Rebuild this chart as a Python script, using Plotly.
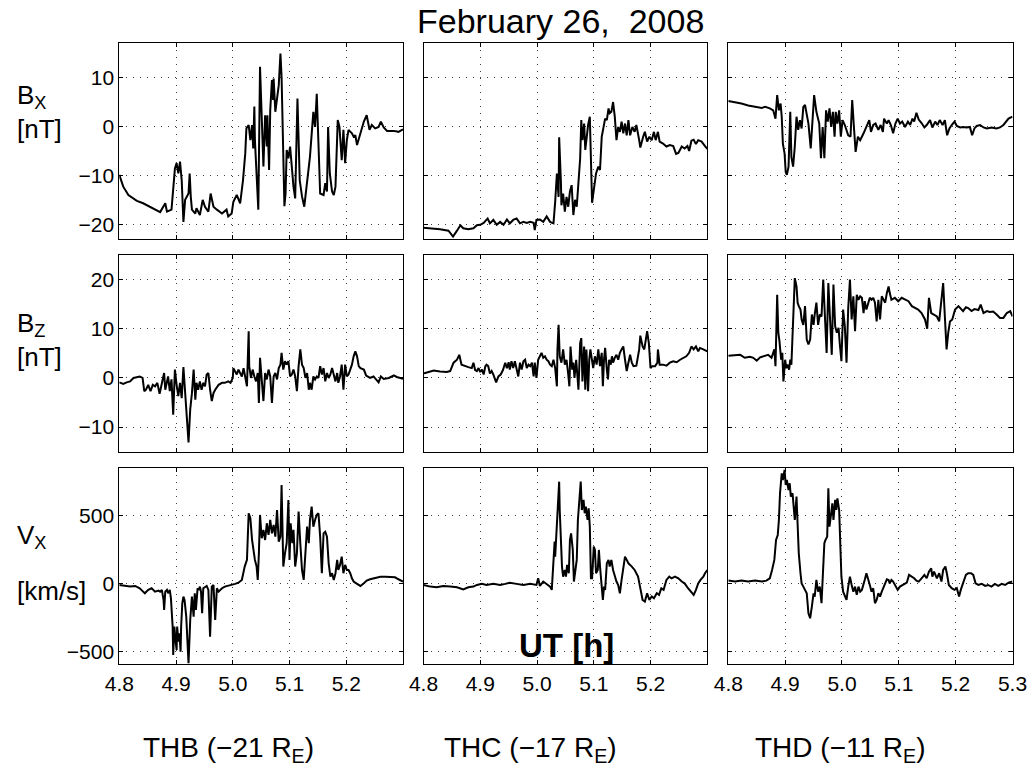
import plotly.graph_objects as go

# ---------------- data (UT hours) ----------------
t_thb_bx = [4.800, 4.807, 4.816, 4.831, 4.842, 4.854, 4.866, 4.872, 4.881, 4.884,
            4.892, 4.895, 4.898, 4.901, 4.904, 4.907, 4.910, 4.913, 4.916, 4.922,
            4.924, 4.926, 4.928, 4.934, 4.936, 4.942, 4.947, 4.951, 4.957, 4.961,
            4.966, 4.972, 4.981, 4.989, 4.992, 4.998, 5.001, 5.007, 5.013, 5.018,
            5.022, 5.024, 5.028, 5.031, 5.034, 5.036, 5.038, 5.039, 5.042, 5.045,
            5.048, 5.051, 5.054, 5.057, 5.060, 5.061, 5.064, 5.066, 5.069, 5.071,
            5.072, 5.075, 5.078, 5.081, 5.084, 5.086, 5.091, 5.093, 5.095, 5.098,
            5.101, 5.104, 5.107, 5.110, 5.114, 5.118, 5.122, 5.126, 5.129, 5.132,
            5.136, 5.142, 5.145, 5.148, 5.151, 5.154, 5.160, 5.163, 5.166, 5.168,
            5.171, 5.175, 5.178, 5.181, 5.185, 5.188, 5.192, 5.195, 5.198, 5.201,
            5.204, 5.210, 5.213, 5.216, 5.219, 5.225, 5.231, 5.236, 5.241, 5.245,
            5.251, 5.257, 5.261, 5.266, 5.272, 5.284, 5.292, 5.300]
bx_thb = [-9.9, -12.3, -14.0, -15.2, -15.7, -16.4, -17.0, -17.5, -15.7, -17.4,
          -17.0, -12.3, -8.6, -7.5, -9.6, -7.2, -11.0, -19.5, -15.0, -13.7,
          -9.6, -14.4, -17.0, -17.8, -16.7, -18.1, -15.0, -16.4, -17.4, -13.7,
          -16.4, -17.0, -17.8, -17.0, -18.4, -17.8, -15.4, -14.0, -15.7, -11.0,
          -5.5, -0.4, 0.3, -2.8, 0.3, -4.5, 4.1, -2.8, -11.6, -17.0,
          12.2, -0.1, -8.2, 2.3, -4.1, 2.3, -8.9, 3.3, 9.5, 5.4,
          9.8, 3.0, 5.7, 8.4, 14.9, 10.1, -16.3, -13.7, -4.8, -6.5,
          -4.1, -8.9, -12.3, -14.7, 5.7, -11.0, -14.3, -16.4, -13.3, -11.0,
          -6.2, 3.0, -0.1, 6.7, -2.8, -13.7, -14.0, -11.6, -13.3, -0.1,
          -9.6, -13.3, -14.0, -12.3, 1.3, -0.1, -6.9, -0.7, -7.5, -2.8,
          -0.7, -1.4, -2.1, -1.8, -3.8, -1.1, 1.0, 2.3, -0.7, 0.3,
          -0.4, -0.1, 1.0, -0.2, -0.9, -0.9, -1.1, -0.6]

t_thc_bx = [4.800, 4.812, 4.829, 4.844, 4.852, 4.859, 4.865, 4.870, 4.879, 4.888,
            4.894, 4.900, 4.906, 4.913, 4.917, 4.923, 4.929, 4.935, 4.941, 4.947,
            4.952, 4.958, 4.964, 4.970, 4.976, 4.982, 4.988, 4.994, 4.996, 4.999,
            5.005, 5.011, 5.017, 5.023, 5.029, 5.032, 5.035, 5.038, 5.039, 5.042,
            5.043, 5.046, 5.049, 5.052, 5.055, 5.058, 5.061, 5.064, 5.067, 5.070,
            5.073, 5.076, 5.078, 5.080, 5.083, 5.085, 5.087, 5.090, 5.093, 5.095,
            5.097, 5.100, 5.104, 5.108, 5.111, 5.114, 5.117, 5.120, 5.123, 5.126,
            5.128, 5.131, 5.134, 5.137, 5.140, 5.143, 5.146, 5.149, 5.152, 5.155,
            5.158, 5.161, 5.164, 5.168, 5.172, 5.175, 5.180, 5.182, 5.187, 5.190,
            5.194, 5.198, 5.202, 5.206, 5.209, 5.213, 5.216, 5.222, 5.228, 5.234,
            5.240, 5.245, 5.249, 5.255, 5.260, 5.265, 5.268, 5.272, 5.276, 5.280,
            5.284, 5.290, 5.296, 5.300]
bx_thc = [-20.7, -20.8, -21.0, -21.3, -22.5, -21.3, -20.2, -20.8, -21.0, -20.8,
          -20.2, -20.1, -19.7, -18.8, -19.8, -19.1, -20.1, -19.5, -20.1, -19.0,
          -19.8, -19.1, -18.8, -19.8, -19.5, -19.7, -19.5, -19.7, -21.2, -19.1,
          -19.0, -19.5, -18.4, -19.5, -19.8, -15.4, -9.6, -14.4, -2.2, -11.0,
          -16.1, -13.7, -17.4, -14.4, -16.4, -13.3, -12.0, -18.1, -15.0, -16.4,
          -11.6, -6.5, 1.3, -2.8, 0.6, -4.8, -2.8, 0.3, 2.0, -11.0,
          -15.6, -13.0, -9.6, -8.2, -8.9, -2.1, -0.1, 1.6, 1.3, 3.7,
          2.7, 3.0, 5.0, 2.0, -2.8, -0.1, -1.1, 1.0, -1.4, 0.6,
          -1.8, 1.3, -1.8, -0.1, -1.1, 0.3, -2.8, -4.3, -2.1, -1.1,
          -3.1, -2.1, -2.8, -1.1, -2.8, -1.1, -3.1, -3.5, -4.1, -3.8,
          -4.0, -5.6, -5.4, -4.1, -4.5, -4.0, -5.0, -2.9, -2.7, -3.6,
          -2.8, -3.1, -4.0, -4.6]

t_thd_bx = [4.800, 4.812, 4.823, 4.835, 4.847, 4.859, 4.865, 4.873, 4.879, 4.883,
            4.886, 4.889, 4.892, 4.894, 4.896, 4.899, 4.901, 4.903, 4.906, 4.909,
            4.911, 4.914, 4.917, 4.920, 4.923, 4.926, 4.929, 4.932, 4.935, 4.938,
            4.941, 4.945, 4.948, 4.951, 4.955, 4.960, 4.963, 4.966, 4.969, 4.972,
            4.975, 4.978, 4.981, 4.984, 4.987, 4.989, 4.992, 4.995, 4.998, 5.001,
            5.005, 5.008, 5.011, 5.015, 5.018, 5.021, 5.024, 5.028, 5.032, 5.038,
            5.043, 5.048, 5.051, 5.055, 5.059, 5.064, 5.068, 5.072, 5.074, 5.079,
            5.082, 5.086, 5.090, 5.094, 5.098, 5.102, 5.106, 5.111, 5.116, 5.120,
            5.124, 5.127, 5.131, 5.135, 5.140, 5.145, 5.149, 5.155, 5.159, 5.164,
            5.168, 5.172, 5.177, 5.181, 5.185, 5.189, 5.193, 5.198, 5.202, 5.208,
            5.213, 5.219, 5.225, 5.229, 5.233, 5.237, 5.243, 5.249, 5.255, 5.263,
            5.272, 5.278, 5.284, 5.288, 5.293, 5.300]
bx_thd = [5.2, 5.0, 4.7, 4.3, 4.1, 3.8, 4.0, 3.7, 3.3, 1.6,
          6.4, 3.3, 4.7, 2.0, -3.5, -5.5, -9.3, -9.9, -8.2, 3.0,
          -6.2, -8.2, -4.1, 2.0, -0.7, 1.3, -0.4, 4.0, 4.4, 2.7,
          0.6, -4.5, 1.3, 6.4, 3.0, 0.6, -6.5, -0.1, -6.5, 3.3,
          1.0, 3.7, -0.1, 3.0, -2.1, 3.0, 0.6, 3.3, -2.1, 1.3,
          0.3, -0.7, -1.8, -2.1, 5.4, -0.1, -5.2, -2.1, -2.8, -1.4,
          -0.1, 1.3, -1.1, 0.3, 0.6, -0.7, 0.3, -1.1, 1.6, 0.6,
          1.3, 0.3, -1.4, 0.6, 1.6, 0.6, 1.0, -0.1, 1.0, 0.3,
          1.6, 1.0, 2.8, 1.4, 0.7, -0.2, 0.3, 1.3, -0.2, 1.0,
          0.3, 1.3, 0.3, 1.3, -1.8, -0.4, 0.3, 1.0, 0.1, -0.2,
          -0.1, -0.2, -0.1, -1.8, -0.4, 0.1, 0.3, -0.2, -0.4, -0.2,
          -0.4, -0.2, 0.3, 1.0, 1.6, 2.0]

t_thb_bz = [4.800, 4.807, 4.813, 4.819, 4.825, 4.831, 4.836, 4.841, 4.844, 4.847,
            4.851, 4.855, 4.859, 4.863, 4.867, 4.871, 4.874, 4.876, 4.879, 4.881,
            4.884, 4.886, 4.889, 4.892, 4.895, 4.898, 4.901, 4.904, 4.907, 4.910,
            4.913, 4.916, 4.919, 4.922, 4.925, 4.928, 4.931, 4.934, 4.936, 4.939,
            4.942, 4.945, 4.948, 4.951, 4.954, 4.957, 4.960, 4.963, 4.966, 4.969,
            4.975, 4.981, 4.986, 4.992, 4.996, 5.000, 5.001, 5.004, 5.007, 5.010,
            5.013, 5.016, 5.019, 5.022, 5.025, 5.028, 5.029, 5.032, 5.035, 5.038,
            5.041, 5.044, 5.046, 5.048, 5.051, 5.054, 5.057, 5.060, 5.063, 5.066,
            5.069, 5.072, 5.075, 5.078, 5.081, 5.084, 5.086, 5.089, 5.092, 5.095,
            5.098, 5.101, 5.104, 5.107, 5.110, 5.113, 5.116, 5.119, 5.122, 5.125,
            5.128, 5.131, 5.134, 5.136, 5.139, 5.142, 5.145, 5.148, 5.151, 5.154,
            5.157, 5.160, 5.163, 5.166, 5.169, 5.172, 5.175, 5.178, 5.181, 5.184,
            5.186, 5.189, 5.192, 5.195, 5.198, 5.201, 5.204, 5.207, 5.210, 5.213,
            5.216, 5.219, 5.222, 5.225, 5.231, 5.235, 5.242, 5.248, 5.253, 5.257,
            5.261, 5.266, 5.275, 5.284, 5.289, 5.295, 5.300]
bz_thb = [-0.9, -1.2, -0.9, -0.7, 0.0, 0.2, 0.3, 0.0, -2.7, -2.4,
          -1.4, -2.7, -1.4, -1.7, -1.0, -3.2, -1.7, -0.7, 1.0, -2.4,
          -0.7, 0.3, -2.7, -0.3, -7.5, 1.7, -1.4, -3.7, -1.0, -4.1,
          2.2, -2.4, -7.1, -13.1, -6.4, -3.1, 1.7, -4.4, -1.0, -2.4,
          -0.7, -2.4, -1.0, -1.7, 0.7, 1.0, -2.4, -4.7, -3.1, -2.4,
          -1.4, -1.0, -1.0, -0.7, -1.0, 0.0, 2.0, 1.4, 0.7, 1.7,
          0.9, 0.3, 2.0, 0.3, -1.7, 9.5, 2.4, 0.0, 1.7, 0.3,
          -0.7, 1.0, -5.1, 4.1, -0.7, -4.7, 1.0, -0.3, 1.7, 0.3,
          -5.1, 0.3, 1.0, -0.3, 2.0, 2.7, 5.1, 1.7, 3.4, 2.7,
          3.4, 0.3, 0.7, 1.7, 0.3, -2.7, 2.4, 5.8, 2.7, 2.0,
          0.0, 1.0, -2.4, -1.0, -2.4, 0.3, -0.3, 0.3, 0.0, 2.4,
          0.7, 2.0, -0.7, 1.0, 0.0, 0.7, 2.0, 0.3, -0.7, 1.0,
          -1.0, 0.3, 2.7, -2.4, 2.7, 0.3, 0.7, 1.7, 2.7, 4.4,
          5.4, 4.4, 2.4, 2.0, 1.7, 0.5, 0.0, 0.3, -0.3, -0.9,
          0.3, -0.2, 0.0, 0.5, 0.2, 0.0, -0.2]

t_thc_bz = [4.800, 4.809, 4.818, 4.829, 4.841, 4.847, 4.853, 4.859, 4.863, 4.867,
            4.873, 4.879, 4.885, 4.888, 4.891, 4.894, 4.897, 4.900, 4.903, 4.906,
            4.909, 4.911, 4.914, 4.917, 4.920, 4.923, 4.928, 4.932, 4.936, 4.940,
            4.944, 4.947, 4.950, 4.952, 4.955, 4.958, 4.961, 4.964, 4.967, 4.970,
            4.973, 4.976, 4.979, 4.982, 4.985, 4.988, 4.991, 4.994, 4.996, 4.999,
            5.002, 5.005, 5.008, 5.011, 5.014, 5.017, 5.020, 5.023, 5.026, 5.029,
            5.032, 5.035, 5.036, 5.038, 5.040, 5.043, 5.046, 5.049, 5.052, 5.055,
            5.057, 5.059, 5.062, 5.064, 5.066, 5.069, 5.071, 5.073, 5.076, 5.078,
            5.080, 5.083, 5.085, 5.087, 5.090, 5.092, 5.094, 5.097, 5.099, 5.102,
            5.105, 5.108, 5.111, 5.114, 5.116, 5.118, 5.120, 5.123, 5.125, 5.127,
            5.130, 5.132, 5.134, 5.137, 5.140, 5.143, 5.146, 5.149, 5.152, 5.155,
            5.158, 5.161, 5.164, 5.167, 5.170, 5.175, 5.180, 5.182, 5.186, 5.189,
            5.192, 5.194, 5.197, 5.200, 5.203, 5.208, 5.212, 5.213, 5.216, 5.222,
            5.228, 5.234, 5.240, 5.246, 5.252, 5.257, 5.263, 5.268, 5.272, 5.276,
            5.280, 5.284, 5.287, 5.293, 5.300]
bz_thc = [0.9, 1.2, 1.5, 1.3, 1.2, 1.4, 3.1, 3.7, 4.7, 2.7,
          2.4, 2.2, 2.0, 3.1, 1.6, 1.4, 2.0, 1.2, 1.7, 0.7,
          2.4, 2.7, 2.4, 0.9, 1.4, 0.7, -0.9, 0.3, 0.7, 1.6,
          3.1, 2.0, 3.2, 1.7, 3.4, 2.0, 3.4, 1.8, 0.3, 3.1,
          1.7, 3.4, 3.7, 2.0, 2.7, 2.4, 3.1, 0.3, 3.1, 0.0,
          3.7, 4.4, 5.1, 4.1, 4.4, 3.7, 3.4, 2.7, 2.4, 3.7,
          2.0, -1.7, 5.8, 10.8, 4.4, 3.1, 5.8, 2.7, 3.7, 0.7,
          -1.7, 6.4, 1.7, 3.1, 0.0, 3.7, -0.7, -2.4, 7.1, 8.1,
          -0.7, 6.4, -2.4, 5.8, -2.7, 3.7, 5.8, 3.1, 2.0, 4.4,
          2.7, 5.8, 2.4, 5.1, -1.7, 3.7, 6.1, 1.7, -0.3, 3.7,
          2.7, 4.4, 3.1, 4.1, 4.7, 3.7, 5.1, 5.8, 6.4, 3.7,
          1.4, 3.1, 4.7, 3.1, 2.4, 2.5, 5.8, 8.6, 6.4, 5.8,
          7.8, 9.5, 7.1, 2.0, 2.4, 2.4, 3.1, 5.8, 2.7, 2.7,
          2.5, 3.1, 3.4, 3.2, 3.7, 4.1, 4.4, 5.1, 6.4, 5.8,
          6.4, 5.4, 6.1, 5.8, 5.4]

t_thd_bz = [4.800, 4.812, 4.821, 4.829, 4.838, 4.844, 4.850, 4.856, 4.865, 4.870,
            4.876, 4.881, 4.883, 4.886, 4.888, 4.890, 4.893, 4.895, 4.897, 4.900,
            4.902, 4.904, 4.907, 4.909, 4.911, 4.914, 4.917, 4.920, 4.922, 4.924,
            4.927, 4.929, 4.932, 4.935, 4.938, 4.941, 4.944, 4.947, 4.950, 4.952,
            4.955, 4.958, 4.961, 4.964, 4.967, 4.970, 4.973, 4.976, 4.979, 4.982,
            4.985, 4.988, 4.991, 4.994, 4.996, 4.999, 5.002, 5.005, 5.008, 5.011,
            5.014, 5.017, 5.020, 5.023, 5.026, 5.029, 5.032, 5.035, 5.038, 5.040,
            5.043, 5.046, 5.049, 5.052, 5.055, 5.058, 5.061, 5.064, 5.067, 5.070,
            5.073, 5.076, 5.079, 5.082, 5.084, 5.087, 5.093, 5.099, 5.105, 5.111,
            5.117, 5.123, 5.128, 5.134, 5.140, 5.146, 5.150, 5.153, 5.157, 5.161,
            5.167, 5.171, 5.175, 5.178, 5.181, 5.184, 5.187, 5.190, 5.194, 5.199,
            5.205, 5.209, 5.213, 5.218, 5.222, 5.228, 5.233, 5.240, 5.244, 5.249,
            5.255, 5.260, 5.266, 5.272, 5.278, 5.284, 5.290, 5.296, 5.300]
bz_thd = [4.5, 4.7, 4.7, 4.1, 4.3, 4.1, 3.5, 4.2, 4.5, 4.7,
          4.1, 5.8, 2.4, 16.9, 9.2, 7.5, 3.7, 5.1, -0.7, 3.7,
          2.0, 2.7, 1.7, 3.7, 2.7, 12.5, 20.3, 18.6, 15.3, 14.6,
          13.9, 11.9, 10.8, 14.6, 7.8, 6.8, 7.8, 12.9, 10.8, 12.9,
          15.3, 10.8, 12.9, 12.5, 20.0, 12.5, 5.1, 19.3, 12.5, 4.7,
          19.0, 10.5, 9.2, 10.2, 7.1, 3.4, 13.9, 10.5, 3.1, 14.2,
          20.0, 11.9, 16.6, 9.5, 16.9, 15.9, 16.6, 16.3, 13.2, 15.6,
          13.9, 14.9, 16.3, 15.9, 16.3, 15.3, 11.5, 15.9, 11.9, 16.6,
          15.9, 15.3, 17.3, 18.6, 17.3, 15.9, 16.3, 15.6, 16.3, 15.9,
          15.6, 14.6, 14.2, 13.9, 13.2, 11.9, 10.0, 16.3, 13.2, 12.9,
          12.5, 11.5, 15.3, 19.3, 12.5, 5.8, 9.2, 11.5, 11.9, 13.9,
          14.6, 14.2, 13.6, 14.4, 14.2, 13.6, 14.0, 13.8, 14.9, 13.2,
          13.6, 13.4, 13.5, 12.9, 12.2, 12.2, 13.2, 13.6, 12.5]

t_thb_vx = [4.800, 4.810, 4.819, 4.828, 4.836, 4.842, 4.845, 4.851, 4.857, 4.863,
            4.869, 4.872, 4.875, 4.878, 4.879, 4.881, 4.884, 4.886, 4.889, 4.891,
            4.894, 4.895, 4.897, 4.899, 4.901, 4.902, 4.904, 4.906, 4.908, 4.909,
            4.911, 4.913, 4.915, 4.918, 4.920, 4.922, 4.925, 4.928, 4.931, 4.933,
            4.935, 4.938, 4.940, 4.942, 4.944, 4.946, 4.948, 4.951, 4.954, 4.957,
            4.960, 4.963, 4.966, 4.969, 4.972, 4.975, 4.981, 4.986, 4.992, 4.998,
            5.004, 5.010, 5.016, 5.021, 5.025, 5.028, 5.031, 5.034, 5.036, 5.039,
            5.042, 5.044, 5.046, 5.048, 5.051, 5.054, 5.057, 5.060, 5.063, 5.066,
            5.069, 5.072, 5.075, 5.078, 5.081, 5.084, 5.086, 5.089, 5.092, 5.095,
            5.098, 5.100, 5.102, 5.105, 5.107, 5.110, 5.113, 5.116, 5.119, 5.122,
            5.125, 5.128, 5.131, 5.134, 5.136, 5.139, 5.142, 5.145, 5.148, 5.151,
            5.154, 5.157, 5.160, 5.163, 5.166, 5.169, 5.172, 5.175, 5.178, 5.181,
            5.184, 5.186, 5.189, 5.192, 5.195, 5.198, 5.201, 5.204, 5.207, 5.210,
            5.213, 5.219, 5.225, 5.231, 5.236, 5.242, 5.251, 5.260, 5.269, 5.278,
            5.286, 5.292, 5.300]
vx_thb = [-10, -17, -22, -17, -34, -59, -71, -46, -34, -59,
          -51, -59, -46, -120, -193, -59, -46, -71, -46, -108,
          -315, -523, -315, -413, -487, -315, -425, -364, -499, -315,
          -144, -95, -120, -242, -462, -584, -267, -95, -242, -71,
          -193, -34, -46, -22, -59, -218, -34, -22, -17, -46,
          -389, -22, -10, -267, -34, -59, -34, -22, -17, -10,
          -2, 7, 27, 125, 174, 516, 479, 320, 259, 174,
          125, 27, 222, 504, 333, 394, 320, 443, 357, 467,
          369, 430, 345, 540, 308, 345, 724, 125, 222, 296,
          614, 174, 443, 296, 394, 125, 222, 528, 296, 100,
          27, 271, 418, 296, 467, 565, 418, 467, 504, 516,
          345, 76, 369, 381, 345, 149, 51, 76, 27, 76,
          174, 100, 137, 198, 76, 137, 100, 100, 76, 39,
          15, -2, -17, 2, 22, 32, 39, 51, 51, 46,
          46, 32, 15]

t_thc_vx = [4.800, 4.812, 4.823, 4.835, 4.847, 4.859, 4.870, 4.879, 4.888, 4.894,
            4.903, 4.911, 4.923, 4.935, 4.944, 4.952, 4.964, 4.976, 4.988, 4.999,
            5.002, 5.005, 5.011, 5.017, 5.023, 5.026, 5.029, 5.031, 5.032, 5.035,
            5.037, 5.039, 5.040, 5.042, 5.044, 5.046, 5.049, 5.051, 5.053, 5.056,
            5.058, 5.060, 5.063, 5.065, 5.067, 5.070, 5.072, 5.074, 5.077, 5.079,
            5.082, 5.084, 5.086, 5.089, 5.091, 5.093, 5.095, 5.097, 5.100, 5.102,
            5.104, 5.107, 5.109, 5.111, 5.114, 5.116, 5.118, 5.120, 5.123, 5.126,
            5.128, 5.131, 5.134, 5.137, 5.140, 5.143, 5.146, 5.149, 5.152, 5.155,
            5.158, 5.161, 5.167, 5.172, 5.178, 5.182, 5.186, 5.190, 5.194, 5.198,
            5.202, 5.206, 5.211, 5.215, 5.219, 5.223, 5.228, 5.233, 5.237, 5.243,
            5.249, 5.255, 5.260, 5.266, 5.272, 5.276, 5.280, 5.284, 5.288, 5.293,
            5.296, 5.300]
vx_thc = [-10, -22, -27, -17, -22, -27, -42, -27, -22, -10,
          -2, -10, -2, -10, -2, 7, -2, -10, -2, -10,
          39, -17, 15, -2, -22, -46, 174, 308, 198, 418,
          638, 748, 540, 296, 125, 51, 100, 51, 137, 76,
          320, 369, 247, 15, 100, 174, 467, 614, 748, 540,
          614, 516, 565, 467, 553, 418, 39, 39, 271, 247,
          76, 100, 247, 125, -71, -120, -22, -46, 149, 174,
          125, 174, 100, 51, 15, -10, -71, 27, 125, 198,
          174, 149, 125, 100, 51, -46, -120, -132, -71, -120,
          -95, -108, -71, -83, -34, -46, 27, 51, 39, 51,
          39, 15, 2, -34, -59, -83, -46, 2, 27, 51,
          76, 100]

t_thd_vx = [4.800, 4.812, 4.823, 4.835, 4.847, 4.859, 4.867, 4.873, 4.877, 4.881,
            4.884, 4.887, 4.889, 4.891, 4.894, 4.896, 4.899, 4.901, 4.903, 4.906,
            4.908, 4.910, 4.913, 4.915, 4.917, 4.920, 4.922, 4.924, 4.927, 4.929,
            4.932, 4.935, 4.938, 4.941, 4.944, 4.947, 4.950, 4.952, 4.955, 4.958,
            4.961, 4.964, 4.967, 4.969, 4.971, 4.974, 4.976, 4.978, 4.981, 4.983,
            4.985, 4.988, 4.990, 4.992, 4.995, 4.997, 4.999, 5.002, 5.005, 5.008,
            5.011, 5.014, 5.017, 5.020, 5.023, 5.026, 5.029, 5.032, 5.035, 5.038,
            5.040, 5.043, 5.046, 5.049, 5.052, 5.055, 5.058, 5.061, 5.064, 5.067,
            5.070, 5.073, 5.076, 5.079, 5.082, 5.084, 5.087, 5.090, 5.093, 5.098,
            5.102, 5.108, 5.114, 5.118, 5.123, 5.127, 5.131, 5.135, 5.140, 5.145,
            5.149, 5.153, 5.157, 5.159, 5.162, 5.167, 5.171, 5.175, 5.178, 5.182,
            5.185, 5.188, 5.193, 5.198, 5.202, 5.206, 5.209, 5.213, 5.218, 5.222,
            5.227, 5.231, 5.235, 5.240, 5.246, 5.252, 5.257, 5.263, 5.269, 5.275,
            5.281, 5.287, 5.293, 5.300]
vx_thd = [22, 15, 22, 15, 22, 15, 22, 39, 100, 174,
          320, 357, 467, 663, 809, 760, 834, 724, 760, 687,
          736, 638, 663, 565, 467, 638, 418, 222, 76, 2,
          -22, -46, -71, -218, -254, -169, -71, -95, 27, -59,
          -22, -144, 174, 296, 320, 345, 699, 418, 516, 589,
          467, 614, 540, 626, 540, 320, 51, -59, -95, -120,
          -22, 51, -10, -59, -22, -83, -22, -59, -46, -10,
          27, 76, 39, -10, -59, -34, -144, -120, -71, -95,
          -59, -34, 2, 32, 27, 2, 27, 15, -10, -46,
          -22, -10, 7, 64, 51, 39, 22, 15, 39, 64,
          39, 88, 112, 51, 88, 39, 76, 15, 100, 125,
          64, -10, -34, -46, -34, -95, -46, 2, 64, 76,
          76, 64, 2, -10, -2, -17, -10, -22, -2, -17,
          -2, -10, 7, 15]

stations = ["THB", "THC", "THD"]
distances = ["\u221221", "\u221217", "\u221211"]
row_names = ["B<sub>X</sub>", "B<sub>Z</sub>", "V<sub>X</sub>"]
row_units = ["[nT]", "[nT]", "[km/s]"]
x_ticks = [4.8, 4.9, 5.0, 5.1, 5.2, 5.3]
x_tick_labels = ["4.8", "4.9", "5.0", "5.1", "5.2", "5.3"]
y_ticks = [[-20, -10, 0, 10], [-10, 0, 10, 20], [-500, 0, 500]]
title_text = "February 26,\u00a0 2008"

series = [
    [(t_thb_bx, bx_thb), (t_thc_bx, bx_thc), (t_thd_bx, bx_thd)],
    [(t_thb_bz, bz_thb), (t_thc_bz, bz_thc), (t_thd_bz, bz_thd)],
    [(t_thb_vx, vx_thb), (t_thc_vx, vx_thc), (t_thd_vx, vx_thd)],
]
for row in series:
    for t, v in row:
        if len(t) != len(v):
            raise ValueError(f"length mismatch {len(t)} vs {len(v)}")

# ---------------- layout geometry (pixels of the 1034x782 figure) ----------------
W, H = 1034, 782
col_px = [(119.3, 403.0), (423.5, 707.3), (728.3, 1012.5)]
row_px = [(43.3, 239.0), (255.0, 451.7), (468.3, 664.3)]
y_ranges = [[-23, 17], [-15, 25], [-592, 846]]

FONT = "Liberation Sans, Arial, Helvetica, sans-serif"

fig = go.Figure()
layout = dict(
    width=W, height=H, margin=dict(l=0, r=0, t=0, b=0),
    paper_bgcolor="white", plot_bgcolor="white", showlegend=False,
    font=dict(family=FONT, color="black"),
)

for r in range(3):
    for c in range(3):
        k = r * 3 + c + 1
        suffix = "" if k == 1 else str(k)
        t, v = series[r][c]
        fig.add_trace(go.Scatter(x=t, y=v, mode="lines",
                                 line=dict(color="black", width=2),
                                 xaxis="x" + suffix, yaxis="y" + suffix,
                                 hoverinfo="skip"))
        x0, x1 = col_px[c]
        y0, y1 = row_px[r]
        show_x = (r == 2)
        # the last label (5.3) is only written under the right-hand column
        n_ticks = len(x_ticks) if c == 2 else len(x_ticks) - 1
        layout["xaxis" + suffix] = dict(
            domain=[x0 / W, x1 / W], anchor="y" + suffix, range=[4.8, 5.3],
            tickmode="array", tickvals=x_ticks[:n_ticks], ticktext=x_tick_labels[:n_ticks],
            showticklabels=show_x, ticks="inside", ticklen=4, tickcolor="black",
            showline=True, linecolor="black", linewidth=1, mirror="ticks",
            showgrid=True, gridcolor="rgba(0,0,0,0.75)", griddash="1px,6px", gridwidth=1,
            zeroline=False, automargin=False,
            tickfont=dict(size=21, family=FONT, color="black"),
        )
        layout["yaxis" + suffix] = dict(
            domain=[1 - y1 / H, 1 - y0 / H], anchor="x" + suffix, range=y_ranges[r],
            tickmode="array", tickvals=y_ticks[r],
            showticklabels=(c == 0), ticks="inside", ticklen=4, tickcolor="black",
            showline=True, linecolor="black", linewidth=1, mirror="ticks",
            showgrid=True, gridcolor="rgba(0,0,0,0.75)", griddash="1px,6px", gridwidth=1,
            zeroline=False, automargin=False,
            tickfont=dict(size=21, family=FONT, color="black"),
        )

annotations = []
def ann(text, px, py, size, xanchor="center", yanchor="middle", bold=False):
    annotations.append(dict(
        text=("<b>%s</b>" % text) if bold else text,
        x=px / W, y=1 - py / H, xref="paper", yref="paper",
        xanchor=xanchor, yanchor=yanchor, showarrow=False,
        font=dict(size=size, family=FONT, color="black")))

ann(title_text, 560, 0, 34, yanchor="top")
label_pos = [(96, 129), (324, 357), (536, 591)]
for r in range(3):
    ann(row_names[r], 15, label_pos[r][0], 26, xanchor="left")
    ann(row_units[r], 15, label_pos[r][1], 26, xanchor="left")
bottom_centers = [228, 530, 840]
for c in range(3):
    ann("%s (%s R<sub>E</sub>)" % (stations[c], distances[c]), bottom_centers[c], 749, 28)
ann("UT [h]", 566, 645, 33, bold=True)

layout["annotations"] = annotations
fig.update_layout(**layout)

fig.write_html("out.html", config={"displayModeBar": False},
               post_script="document.body.style.margin='0';")
